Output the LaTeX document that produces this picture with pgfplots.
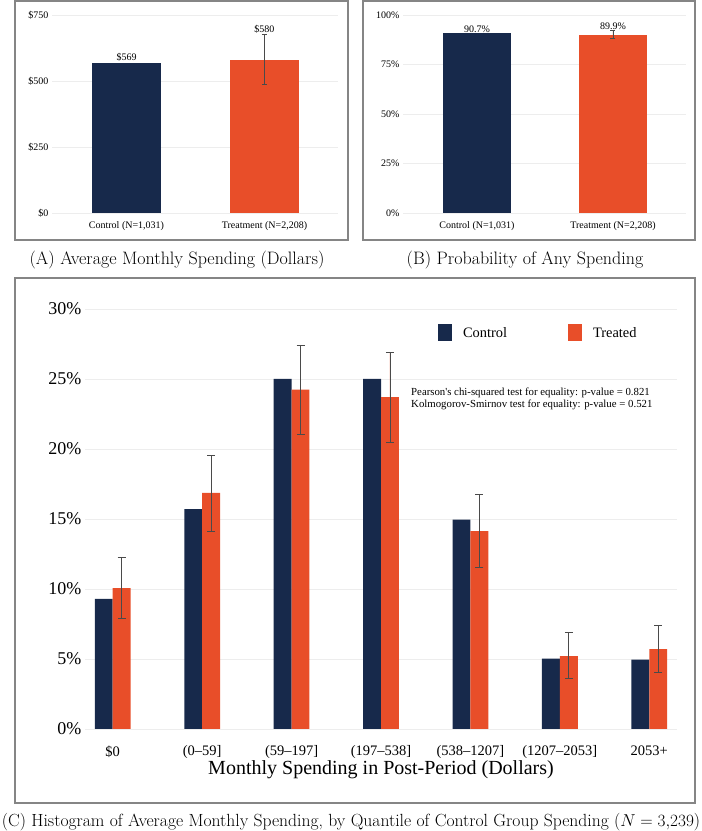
\documentclass[border=0pt]{standalone}
\usepackage{fontspec}
\usepackage{pgfplots}
\pgfplotsset{compat=1.18}
\newfontfamily\tnr{Liberation Serif}
\definecolor{navy}{HTML}{17294B}
\definecolor{tred}{HTML}{E84E29}
\definecolor{gridc}{HTML}{EDEDED}
\definecolor{framec}{HTML}{858585}
\definecolor{errc}{HTML}{4A4A4A}

\pgfplotsset{
  panel/.style={
    scale only axis, anchor=south west, clip=false,
    axis line style={draw=none},
    major tick length=0pt,
    ymajorgrids, xmajorgrids=false,
    grid style={gridc, line width=0.9bp},
    ybar, bar shift=0pt,
    error bars/error bar style={draw=errc, line width=0.7bp},
    error bars/error mark options={rotate=90, draw=errc, line width=0.7bp, mark size=2.5bp},
  },
  small panel/.style={
    panel,
    width=286bp, height=198bp,
    bar width=0.5,
    ticklabel style={font=\fontsize{10bp}{12bp}\tnr},
    xticklabel style={yshift=-5bp},
  },
}

\begin{document}
\begin{tikzpicture}[x=1bp, y=1bp]
\useasboundingbox (0,0) rectangle (702,831);

% frames
\draw[framec, line width=1.3bp] (15,591) rectangle (348,830);
\draw[framec, line width=1.3bp] (363,591) rectangle (695,830);
\draw[framec, line width=1.3bp] (15,28) rectangle (695,553);

% (A) average monthly spending
\begin{axis}[small panel, at={(52bp,618bp)},
  xmin=-0.54, xmax=1.533, ymin=0, ymax=750,
  ytick={0,250,500,750}, yticklabels={\$0,\$250,\$500,\$750},
  xtick={0,1}, xticklabels={{Control (N=1,031)},{Treatment (N=2,208)}},
]
\addplot[fill=navy, draw=none] coordinates {(0,569)};
\addplot[fill=tred, draw=none, error bars/.cd, y dir=both, y explicit]
  coordinates {(1,580) += (0,97) -= (0,93)};
\node[anchor=south, inner sep=1bp, font=\fontsize{10bp}{12bp}\tnr] at (axis cs:0,569) {\$569};
\node[anchor=south, inner sep=1bp, font=\fontsize{10bp}{12bp}\tnr] at (axis cs:1,677) {\$580};
\end{axis}

% (B) probability of any spending
\begin{axis}[small panel, at={(403bp,618bp)}, width=283bp,
  xmin=-0.544, xmax=1.537, ymin=0, ymax=100,
  ytick={0,25,50,75,100}, yticklabels={0\%,25\%,50\%,75\%,100\%},
  xtick={0,1}, xticklabels={{Control (N=1,031)},{Treatment (N=2,208)}},
]
\addplot[fill=navy, draw=none] coordinates {(0,90.7)};
\addplot[fill=tred, draw=none, error bars/.cd, y dir=both, y explicit]
  coordinates {(1,89.9) += (0,2.1) -= (0,1.9)};
\node[anchor=south, inner sep=1bp, font=\fontsize{10bp}{12bp}\tnr] at (axis cs:0,90.7) {90.7\%};
\node[anchor=south, inner sep=1bp, font=\fontsize{10bp}{12bp}\tnr] at (axis cs:1,92.0) {89.9\%};
\end{axis}

% (C) histogram by quantile
\begin{axis}[panel, at={(85bp,102bp)}, width=592bp, height=420bp,
  xmin=-0.31, xmax=6.31, ymin=0, ymax=30,
  bar width=0.2,
  ytick={0,5,10,15,20,25,30}, yticklabels={0\%,5\%,10\%,15\%,20\%,25\%,30\%},
  xtick={0,1,2,3,4,5,6},
  xticklabels={{\$0},{(0–59]},{(59–197]},{(197–538]},{(538–1207]},{(1207–2053]},{2053+}},
  yticklabel style={font=\fontsize{18bp}{20bp}\tnr},
  xticklabel style={font=\fontsize{14.5bp}{16bp}\tnr, yshift=-13bp},
  xlabel={Monthly Spending in Post-Period (Dollars)},
  xlabel style={at={(axis description cs:0.5,0)}, anchor=center, yshift=-41bp,
    font=\fontsize{20bp}{22bp}\tnr},
  error bars/error mark options={rotate=90, draw=errc, line width=0.8bp, mark size=4bp},
  error bars/error bar style={draw=errc, line width=0.8bp},
  legend columns=2,
  legend style={at={(0.596,0.943)}, anchor=west, draw=none, fill=none,
    inner sep=0pt, font=\fontsize{14.4bp}{16bp}\tnr, nodes={inner sep=0pt},
    /tikz/every odd column/.append style={column sep=11bp},
    /tikz/every even column/.append style={column sep=61bp}},
]
\addplot[fill=navy, draw=none,
  legend image code/.code={\fill[navy] (0bp,-8.5bp) rectangle (14bp,8.5bp);}]
  coordinates {(-0.1,9.3) (0.9,15.7) (1.9,25.0) (2.9,25.0) (3.9,14.95) (4.9,5.03) (5.9,4.95)};
\addlegendentry{Control}
\addplot[fill=tred, draw=none,
  legend image code/.code={\fill[tred] (0bp,-8.5bp) rectangle (14bp,8.5bp);},
  error bars/.cd, y dir=both, y explicit]
  coordinates {
    (0.1,10.07) += (0,2.22) -= (0,2.17)
    (1.1,16.86) += (0,2.71) -= (0,2.72)
    (2.1,24.24) += (0,3.19) -= (0,3.19)
    (3.1,23.71) += (0,3.19) -= (0,3.21)
    (4.1,14.14) += (0,2.62) -= (0,2.62)
    (5.1,5.21) += (0,1.67) -= (0,1.59)
    (6.1,5.71) += (0,1.67) -= (0,1.64)
  };
\addlegendentry{Treated}
\end{axis}

\node[anchor=west, align=left, inner sep=0pt, font=\fontsize{10.8bp}{11.7bp}\tnr]
  at (411,432) {Pearson's chi-squared test for equality: p-value = 0.821\\
  Kolmogorov-Smirnov test for equality: p-value = 0.521};

% captions
\node[font=\fontsize{18bp}{21bp}\selectfont] at (177,571) {(A) Average Monthly Spending (Dollars)};
\node[font=\fontsize{18bp}{21bp}\selectfont] at (525,571) {(B) Probability of Any Spending};
\node[font=\fontsize{17.6bp}{20bp}\selectfont] at (351,9)
  {(C) Histogram of Average Monthly Spending, by Quantile of Control Group Spending ($N=3{,}239$)};
\end{tikzpicture}
\end{document}
